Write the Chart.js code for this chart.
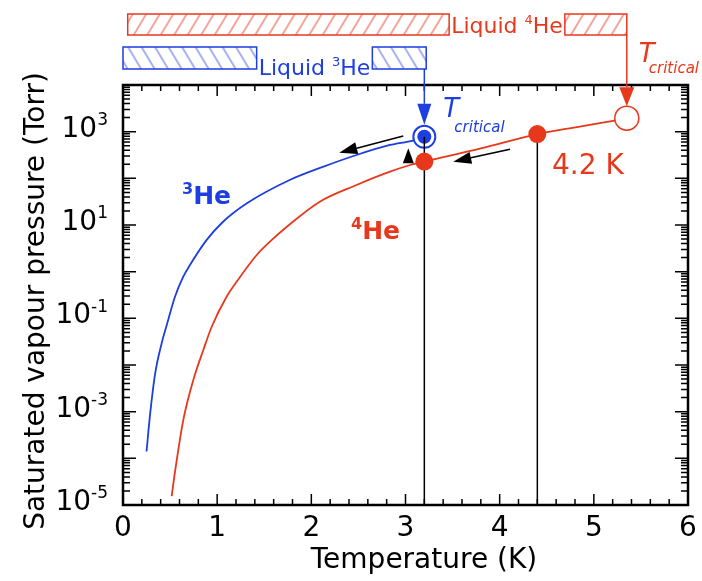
<!DOCTYPE html>
<html>
<head>
<meta charset="utf-8">
<script src="https://cdn.jsdelivr.net/npm/chart.js@4/dist/chart.umd.min.js"></script>
<style>
	html, body { margin: 0; padding: 0; background: #fff; }
	#grafica { display: block; }
</style>
</head>
<body>
<canvas id="grafica" width="702" height="581"></canvas>
<script>
/*******************************************************************************
 * Datos
 *******************************************************************************/

var temp_he3 = [0.25, 0.287, 0.34, 0.41, 0.464, 0.552, 0.64, 0.711, 0.889, 1.06, 1.32, 1.77, 2.13, 2.48, 2.835, 3.08, 3.2];
var pres_he3 = [1.4e-4, 8.5e-4, 6.3e-3, 0.029, 0.071, 0.29, 0.78, 1.39, 4.8, 11.6, 29.5, 92, 178, 316, 518, 646, 776];

var temp_he4 = [0.517, 0.552, 0.64, 0.747, 0.853, 0.942, 1.10, 1.207, 1.42, 1.58, 1.74, 2.09, 2.48, 2.835, 3.05, 3.2, 3.8, 4.4, 4.64, 5.22, 5.35];
var pres_he4 = [1.55e-5, 5.1e-5, 6.6e-4, 4.8e-3, 0.021, 0.066, 0.29, 0.61, 2.28, 4.78, 9.2, 31.6, 72, 139, 193, 229, 437, 890, 1090, 1720, 1950];

var temp_puntos_he4 = [3.2, 4.4];
var pres_puntos_he4 = [229, 890];
var critico_he3 = [3.2, 776];
var critico_he4 = [5.35, 1950];

var rango_liquido3 = [0, 3.22];
var rango_liquido4 = [0.05, 5.35];

// flechas negras: [T inicio, P inicio, T fin, P fin]
var flecha_he3 = [2.976, 807, 2.297, 354];
var flecha_he4 = [4.11, 419, 3.507, 228];
var triangulo = [3.03, 210, 440];

var x_ticks = [0, 1, 2, 3, 4, 5, 6];
var y_exps = [-5, -3, -1, 1, 3];

var ROJO = '#e8381c';
var AZUL = '#1d3ee0';
var FUENTE = '"DejaVu Sans", sans-serif';

function aPuntos(xs, ys)
{
	var res = [];
	for (var i = 0; i < xs.length; i++) res.push({ x: xs[i], y: ys[i] });
	return res;
}

/*******************************************************************************
 * Utilidades de dibujo
 *******************************************************************************/

function dibujaCaja(ctx, x0, x1, y0, y1, color, color_rayado, sentido)
{
	var h = y1 - y0;
	var dx = 0.6 * h;
	ctx.save();
	ctx.beginPath();
	ctx.rect(x0, y0, x1 - x0, h);
	ctx.clip();
	ctx.strokeStyle = color_rayado;
	ctx.lineWidth = 2;
	for (var x = x0 - h; x < x1 + h; x += 13.5) {
		ctx.beginPath();
		if (sentido > 0) { ctx.moveTo(x, y1); ctx.lineTo(x + dx, y0); }
		else { ctx.moveTo(x, y0); ctx.lineTo(x + dx, y1); }
		ctx.stroke();
	}
	ctx.restore();
	ctx.strokeStyle = color;
	ctx.lineWidth = 1.5;
	ctx.strokeRect(x0, y0, x1 - x0, h);
}

// partes: [[texto, es_superindice], ...]
function anchoTexto(ctx, partes, tam, tam_sup, estilo)
{
	var w = 0;
	for (var i = 0; i < partes.length; i++) {
		ctx.font = estilo + (partes[i][1] ? tam_sup : tam) + 'px ' + FUENTE;
		w += ctx.measureText(partes[i][0]).width;
	}
	return w;
}

function dibujaTexto(ctx, partes, x, y, tam, tam_sup, estilo, color)
{
	ctx.fillStyle = color;
	ctx.textAlign = 'left';
	ctx.textBaseline = 'alphabetic';
	for (var i = 0; i < partes.length; i++) {
		var sup = partes[i][1];
		ctx.font = estilo + (sup ? tam_sup : tam) + 'px ' + FUENTE;
		ctx.fillText(partes[i][0], x, sup ? y - tam * 0.42 : y);
		x += ctx.measureText(partes[i][0]).width;
	}
}

function dibujaFlecha(ctx, x1, y1, x2, y2, largo, ancho, color, grosor)
{
	var ang = Math.atan2(y2 - y1, x2 - x1);
	var bx = x2 - largo * Math.cos(ang), by = y2 - largo * Math.sin(ang);
	ctx.strokeStyle = color;
	ctx.lineWidth = grosor;
	ctx.beginPath();
	ctx.moveTo(x1, y1);
	ctx.lineTo(bx, by);
	ctx.stroke();
	ctx.fillStyle = color;
	ctx.beginPath();
	ctx.moveTo(x2, y2);
	ctx.lineTo(bx + ancho / 2 * Math.sin(ang), by - ancho / 2 * Math.cos(ang));
	ctx.lineTo(bx - ancho / 2 * Math.sin(ang), by + ancho / 2 * Math.cos(ang));
	ctx.closePath();
	ctx.fill();
}

/*******************************************************************************
 * Plugin: ejes, marcas, etiquetas y anotaciones
 *******************************************************************************/

var dibujo_extra = {
	id: 'dibujo_extra',
	afterDraw: function (chart)
	{
		var ctx = chart.ctx;
		var sx = chart.scales.x, sy = chart.scales.y;
		var a = chart.chartArea;
		ctx.save();

		// marcas del eje x (hacia dentro, abajo y arriba)
		ctx.strokeStyle = '#000';
		ctx.lineWidth = 1.5;
		for (var i = 0; i <= 30; i++) {
			var px = sx.getPixelForValue(i * 0.2);
			var l = (i % 5 === 0) ? 11 : 6;
			ctx.beginPath();
			ctx.moveTo(px, a.bottom); ctx.lineTo(px, a.bottom - l);
			ctx.moveTo(px, a.top); ctx.lineTo(px, a.top + l);
			ctx.stroke();
		}

		// marcas del eje y logaritmico
		for (var e = -5; e <= 3; e++) {
			for (var m = 1; m <= 9; m++) {
				var py = sy.getPixelForValue(m * Math.pow(10, e));
				var ly = (m === 1) ? 13 : 7;
				ctx.beginPath();
				ctx.moveTo(a.left, py); ctx.lineTo(a.left + ly, py);
				ctx.moveTo(a.right, py); ctx.lineTo(a.right - ly, py);
				ctx.stroke();
			}
		}

		// marco
		ctx.lineWidth = 2.5;
		ctx.strokeRect(a.left, a.top, a.right - a.left, a.bottom - a.top);

		// etiquetas eje x
		ctx.fillStyle = '#000';
		ctx.font = '28px ' + FUENTE;
		ctx.textAlign = 'center';
		ctx.textBaseline = 'alphabetic';
		for (var k = 0; k < x_ticks.length; k++) {
			ctx.fillText(String(x_ticks[k]), sx.getPixelForValue(x_ticks[k]), a.bottom + 31);
		}

		// etiquetas eje y: 10 con exponente
		for (var j = 0; j < y_exps.length; j++) {
			var ty = sy.getPixelForValue(Math.pow(10, y_exps[j]));
			var partes = [['10', false], [String(y_exps[j]), true]];
			var w = anchoTexto(ctx, partes, 28, 17, '');
			dibujaTexto(ctx, partes, 108 - w, ty + 5, 28, 17, '', '#000');
		}

		// titulos de ejes
		ctx.fillStyle = '#000';
		ctx.font = '28px ' + FUENTE;
		ctx.textAlign = 'center';
		ctx.fillText('Temperature (K)', 424, 568);
		ctx.save();
		ctx.translate(44, (a.top + a.bottom) / 2 + 6);
		ctx.rotate(-Math.PI / 2);
		ctx.fillText('Saturated vapour pressure (Torr)', 0, 0);
		ctx.restore();

		// barras rayadas de liquido
		var p4 = [['Liquid ', false], ['4', true], ['He', false]];
		var w4 = anchoTexto(ctx, p4, 22, 13, '');
		var c4 = 507;
		dibujaCaja(ctx, sx.getPixelForValue(rango_liquido4[0]), c4 - w4 / 2 - 2, 14, 35, ROJO, 'rgba(232,56,28,0.45)', 1);
		dibujaCaja(ctx, c4 + w4 / 2 + 2, sx.getPixelForValue(rango_liquido4[1]), 14, 35, ROJO, 'rgba(232,56,28,0.45)', 1);
		dibujaTexto(ctx, p4, c4 - w4 / 2, 33, 22, 13, '', ROJO);

		var p3 = [['Liquid ', false], ['3', true], ['He', false]];
		var w3 = anchoTexto(ctx, p3, 22, 13, '');
		var c3 = 314.5;
		dibujaCaja(ctx, sx.getPixelForValue(rango_liquido3[0]), c3 - w3 / 2 - 2, 47, 69, AZUL, 'rgba(29,62,224,0.4)', -1);
		dibujaCaja(ctx, c3 + w3 / 2 + 2, sx.getPixelForValue(rango_liquido3[1]), 47, 69, AZUL, 'rgba(29,62,224,0.4)', -1);
		dibujaTexto(ctx, p3, c3 - w3 / 2, 75, 22, 13, '', AZUL);

		// flechas hacia los puntos criticos
		var xc3 = sx.getPixelForValue(critico_he3[0]);
		dibujaFlecha(ctx, xc3, 69, xc3, sy.getPixelForValue(critico_he3[1]) - 12, 21, 14, AZUL, 1.5);
		var xc4 = sx.getPixelForValue(critico_he4[0]);
		dibujaFlecha(ctx, xc4, 35, xc4, sy.getPixelForValue(critico_he4[1]) - 12, 19, 15, ROJO, 1.5);

		// T critical
		ctx.textAlign = 'left';
		ctx.fillStyle = AZUL;
		ctx.font = 'italic 26px ' + FUENTE;
		ctx.fillText('T', xc3 + 19, 117);
		ctx.font = 'italic 15px ' + FUENTE;
		ctx.fillText('critical', xc3 + 30, 132);
		ctx.fillStyle = ROJO;
		ctx.font = 'italic 26px ' + FUENTE;
		ctx.fillText('T', xc4 + 12, 62);
		ctx.font = 'italic 15px ' + FUENTE;
		ctx.fillText('critical', xc4 + 22, 73);

		// etiquetas de las curvas
		dibujaTexto(ctx, [['3', true], ['He', false]], 182, 204, 25, 16, 'bold ', AZUL);
		dibujaTexto(ctx, [['4', true], ['He', false]], 351, 239, 25, 16, 'bold ', ROJO);
		ctx.fillStyle = ROJO;
		ctx.font = '28px ' + FUENTE;
		ctx.textAlign = 'left';
		ctx.fillText('4.2 K', 552, 174);

		// flechas negras
		dibujaFlecha(ctx, sx.getPixelForValue(flecha_he3[0]), sy.getPixelForValue(flecha_he3[1]),
			sx.getPixelForValue(flecha_he3[2]), sy.getPixelForValue(flecha_he3[3]), 18, 12, '#000', 1.5);
		dibujaFlecha(ctx, sx.getPixelForValue(flecha_he4[0]), sy.getPixelForValue(flecha_he4[1]),
			sx.getPixelForValue(flecha_he4[2]), sy.getPixelForValue(flecha_he4[3]), 18, 12, '#000', 1.5);
		var txp = sx.getPixelForValue(triangulo[0]);
		var tyb = sy.getPixelForValue(triangulo[1]);
		var tyt = sy.getPixelForValue(triangulo[2]);
		ctx.fillStyle = '#000';
		ctx.beginPath();
		ctx.moveTo(txp, tyt);
		ctx.lineTo(txp + 5.5, tyb);
		ctx.lineTo(txp - 5.5, tyb);
		ctx.closePath();
		ctx.fill();

		ctx.restore();
	}
};

/*******************************************************************************
 * Grafica
 *******************************************************************************/

var contexto_canvas = document.getElementById('grafica').getContext('2d');

var grafica = new Chart(contexto_canvas, {
	type: 'scatter',
	data: {
		datasets: [
			{
				data: aPuntos(temp_puntos_he4, pres_puntos_he4),
				pointRadius: 9, backgroundColor: ROJO, borderColor: ROJO, borderWidth: 0, order: 0
			},
			{
				data: [{ x: critico_he3[0], y: critico_he3[1] }, { x: critico_he3[0], y: 1e-5 }],
				showLine: true, pointRadius: 0, borderColor: '#000', borderWidth: 1.5, order: 1
			},
			{
				data: [{ x: temp_puntos_he4[1], y: pres_puntos_he4[1] }, { x: temp_puntos_he4[1], y: 1e-5 }],
				showLine: true, pointRadius: 0, borderColor: '#000', borderWidth: 1.5, order: 1
			},
			{
				data: [{ x: critico_he3[0], y: critico_he3[1] }],
				pointRadius: 7, backgroundColor: AZUL, borderColor: AZUL, borderWidth: 0, order: 2
			},
			{
				data: [{ x: critico_he3[0], y: critico_he3[1] }],
				pointRadius: 11, backgroundColor: '#fff', borderColor: AZUL, borderWidth: 2, order: 3
			},
			{
				data: [{ x: critico_he4[0], y: critico_he4[1] }],
				pointRadius: 12, backgroundColor: '#fff', borderColor: ROJO, borderWidth: 1.5, order: 3
			},
			{
				label: '3He',
				data: aPuntos(temp_he3, pres_he3),
				showLine: true, pointRadius: 0, borderColor: AZUL, borderWidth: 1.8,
				cubicInterpolationMode: 'monotone', order: 5
			},
			{
				label: '4He',
				data: aPuntos(temp_he4, pres_he4),
				showLine: true, pointRadius: 0, borderColor: ROJO, borderWidth: 1.8,
				cubicInterpolationMode: 'monotone', order: 5
			}
		]
	},
	options: {
		responsive: false,
		animation: false,
		events: [],
		layout: { padding: { top: 85, right: 14, left: 0, bottom: 0 } },
		plugins: {
			legend: { display: false },
			tooltip: { enabled: false }
		},
		scales: {
			x: {
				type: 'linear', min: 0, max: 6,
				grid: { display: false }, border: { display: false }, ticks: { display: false },
				afterFit: function (s) { s.height = 76; }
			},
			y: {
				type: 'logarithmic', min: 1e-5, max: 1e4,
				grid: { display: false }, border: { display: false }, ticks: { display: false },
				afterFit: function (s) { s.width = 123; }
			}
		}
	},
	plugins: [dibujo_extra]
});
</script>
</body>
</html>
